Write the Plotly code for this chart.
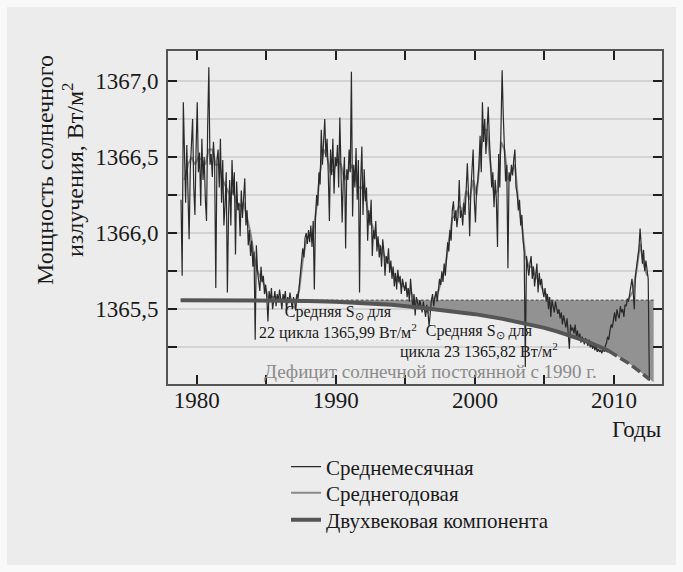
import numpy as np
import plotly.graph_objects as go

# Monthly mean total solar irradiance, W/m^2 (Nov 1978 onward), grouped by solar cycle
cycle21_monthly = [
    1366.22, 1365.72,
    1366.86, 1366.48, 1366.20, 1366.58, 1366.34, 1365.96, 1366.42, 1366.62, 1366.75, 1366.30, 1366.12, 1366.55,
    1366.86, 1366.40, 1366.53, 1366.18, 1366.62, 1366.35, 1366.50, 1366.22, 1366.08, 1366.70, 1367.09, 1366.45,
    1366.52, 1366.37, 1366.60, 1366.45, 1365.64, 1366.48, 1366.55, 1366.30, 1366.62, 1366.20, 1366.48, 1366.05,
    1366.18, 1366.40, 1365.61, 1366.12, 1366.35, 1366.05, 1366.48, 1366.25, 1366.40, 1365.86, 1366.34, 1366.15,
    1366.20, 1365.98, 1366.28, 1366.10, 1366.22, 1366.36, 1366.05, 1366.15, 1365.92, 1366.02, 1365.85, 1365.95,
    1365.78, 1365.88, 1365.30, 1365.92, 1365.75, 1365.70, 1365.62, 1365.78, 1365.68, 1365.72, 1365.60, 1365.66,
    1365.58, 1365.42, 1365.62, 1365.55, 1365.64, 1365.50, 1365.58, 1365.62, 1365.52, 1365.60, 1365.55, 1365.63,
    1365.57, 1365.50, 1365.60, 1365.56, 1365.62, 1365.49, 1365.58, 1365.54, 1365.61, 1365.56, 1365.50, 1365.58,
]
cycle22_monthly = [
    1365.55, 1365.49, 1365.60, 1365.57, 1365.65, 1365.70, 1365.78, 1365.90, 1365.84, 1365.97, 1366.00, 1365.93,
    1366.02, 1365.94, 1366.05, 1365.91, 1366.08, 1365.63, 1366.10, 1366.25, 1366.18, 1366.40, 1366.32, 1366.68,
    1366.45, 1366.58, 1366.75, 1366.50, 1366.62, 1366.40, 1366.08, 1366.55, 1366.38, 1366.62, 1366.26, 1366.50,
    1366.44, 1366.58, 1366.30, 1366.76, 1366.48, 1366.07, 1366.35, 1366.50, 1365.90, 1366.42, 1366.35, 1366.55,
    1366.40, 1367.06, 1366.11, 1366.45, 1366.30, 1366.56, 1366.22, 1366.48, 1365.61, 1366.35, 1366.57, 1366.12,
    1366.42, 1366.21, 1366.30, 1365.95, 1366.15, 1366.05, 1366.22, 1365.85, 1366.02, 1365.96, 1366.08, 1365.88,
    1365.98, 1365.84, 1365.92, 1365.78, 1365.96, 1365.88, 1365.72, 1365.85, 1365.80, 1365.90, 1365.74, 1365.82,
    1365.70, 1365.78, 1365.65, 1365.74, 1365.63, 1365.76, 1365.68, 1365.72, 1365.60, 1365.70, 1365.66, 1365.62,
    1365.68, 1365.58, 1365.64, 1365.55, 1365.70, 1365.62, 1365.50, 1365.60, 1365.46, 1365.58, 1365.55, 1365.50,
    1365.56, 1365.52, 1365.48, 1365.55, 1365.50, 1365.45, 1365.53, 1365.48, 1365.39, 1365.50, 1365.56, 1365.60,
]
cycle23_monthly = [
    1365.52, 1365.58, 1365.62, 1365.55, 1365.64, 1365.70, 1365.66, 1365.75, 1365.68, 1365.80, 1365.72, 1365.85,
    1365.94, 1365.88, 1366.02, 1365.95, 1366.15, 1366.21, 1366.08, 1366.15, 1366.04, 1366.12, 1366.35, 1366.10,
    1366.15, 1366.05, 1366.20, 1366.12, 1366.30, 1366.46, 1366.25, 1365.98, 1366.28, 1366.40, 1366.55, 1366.22,
    1366.07, 1366.30, 1366.34, 1366.45, 1366.64, 1366.40, 1366.86, 1366.60, 1366.75, 1366.52, 1366.70, 1366.83,
    1366.62, 1366.46, 1366.30, 1366.40, 1366.17, 1366.35, 1366.22, 1365.91, 1366.52, 1366.30, 1366.72, 1367.07,
    1366.77, 1366.50, 1366.34, 1366.45, 1365.77, 1366.40, 1366.34, 1366.45, 1366.38, 1366.48, 1366.55, 1366.30,
    1366.26, 1366.15, 1366.22, 1366.05, 1366.12, 1365.96, 1365.88, 1365.12, 1365.85, 1365.78, 1365.72, 1365.80,
    1365.85, 1365.70, 1365.78, 1365.65, 1365.72, 1365.80, 1365.61, 1365.74, 1365.66, 1365.70, 1365.62, 1365.58,
    1365.64, 1365.55, 1365.60, 1365.50, 1365.58, 1365.45, 1365.56, 1365.52, 1365.48, 1365.55, 1365.50, 1365.47,
    1365.50, 1365.44, 1365.48, 1365.40, 1365.46, 1365.42, 1365.38, 1365.44, 1365.35, 1365.24, 1365.40, 1365.36,
    1365.38, 1365.34, 1365.40, 1365.32, 1365.36, 1365.30, 1365.34, 1365.28, 1365.32, 1365.30, 1365.27, 1365.31,
    1365.29, 1365.26, 1365.30, 1365.25, 1365.28, 1365.24, 1365.27, 1365.23, 1365.26, 1365.22, 1365.24, 1365.22,
]
cycle24_monthly = [
    1365.23, 1365.21, 1365.24, 1365.22, 1365.26, 1365.28, 1365.32, 1365.30, 1365.36, 1365.40, 1365.38, 1365.44,
    1365.48, 1365.42, 1365.50, 1365.46, 1365.44, 1365.52, 1365.48, 1365.50, 1365.45, 1365.53, 1365.52, 1365.57,
    1365.55, 1365.60, 1365.66, 1365.70, 1365.62, 1365.50, 1365.72, 1365.78, 1365.85, 1365.90, 1366.03, 1365.92,
    1365.80, 1365.89, 1365.75, 1365.82, 1365.76, 1365.70, 1365.03,
]

# Smoothed (annual) mean, quarterly samples from 1979 Q1
annual_mean = [
    1366.35, 1366.45, 1366.50, 1366.45, 1366.50, 1366.48, 1366.45, 1366.55,
    1366.55, 1366.45, 1366.45, 1366.35, 1366.30, 1366.25, 1366.28, 1366.20,
    1366.18, 1366.20, 1366.10, 1366.00, 1365.85, 1365.75, 1365.70, 1365.66,
    1365.58, 1365.58, 1365.58, 1365.58, 1365.56, 1365.56, 1365.56, 1365.55,
    1365.56, 1365.63, 1365.82, 1365.95, 1366.00, 1366.00, 1366.18, 1366.40,
    1366.55, 1366.50, 1366.40, 1366.42, 1366.48, 1366.45, 1366.35, 1366.40,
    1366.45, 1366.38, 1366.30, 1366.30, 1366.25, 1366.10, 1366.05, 1365.98,
    1365.92, 1365.88, 1365.82, 1365.80, 1365.74, 1365.70, 1365.67, 1365.65,
    1365.63, 1365.62, 1365.56, 1365.54, 1365.52, 1365.50, 1365.48, 1365.53,
    1365.57, 1365.62, 1365.70, 1365.78, 1365.95, 1366.10, 1366.12, 1366.18,
    1366.15, 1366.28, 1366.22, 1366.35, 1366.25, 1366.50, 1366.68, 1366.68,
    1366.45, 1366.25, 1366.28, 1366.60, 1366.55, 1366.35, 1366.40, 1366.45,
    1366.20, 1366.05, 1365.85, 1365.78, 1365.78, 1365.72, 1365.68, 1365.63,
    1365.60, 1365.55, 1365.52, 1365.50, 1365.47, 1365.43, 1365.40, 1365.36,
    1365.37, 1365.33, 1365.31, 1365.29, 1365.28, 1365.26, 1365.25, 1365.23,
    1365.23, 1365.25, 1365.32, 1365.40, 1365.46, 1365.47, 1365.49, 1365.53,
    1365.58, 1365.62, 1365.76, 1365.93, 1365.80, 1365.72,
]

# Secular (bi-centennial) component: fitted part and projection
secular_years = [1978.85, 1982, 1985, 1988, 1990, 1992, 1994, 1996, 1998,
                 2000, 2002, 2004, 2005, 2006, 2007, 2008, 2009, 2009.6]
secular_vals = [1365.560, 1365.560, 1365.558, 1365.555, 1365.550, 1365.542,
                1365.530, 1365.512, 1365.492, 1365.468, 1365.437, 1365.400,
                1365.378, 1365.352, 1365.323, 1365.290, 1365.252, 1365.227]
projection_years = [2009.6, 2010, 2010.5, 2011, 2011.5, 2012, 2012.55]
projection_vals = [1365.227, 1365.205, 1365.178, 1365.148, 1365.115, 1365.080, 1365.040]

# Reference level (start of the secular decline) and the deficit edge
ref_level = 1365.56
ref_years = [1978.85, 2012.85]
deficit_edge_year = 2012.85
deficit_edge_val = 1365.02

y_ticks = [1365.25, 1365.5, 1365.75, 1366.0, 1366.25, 1366.5, 1366.75, 1367.0]
y_ticktext = ["", "1365,5", "", "1366,0", "", "1366,5", "", "1367,0"]
x_ticks = [1980, 1985, 1990, 1995, 2000, 2005, 2010]
x_ticktext = ["1980", "", "1990", "", "2000", "", "2010"]

monthly = cycle21_monthly + cycle22_monthly + cycle23_monthly + cycle24_monthly
monthly_t = 1978 + (10.5 + np.arange(len(monthly))) / 12.0
annual_t = 1979 + (0.5 + np.arange(len(annual_mean))) / 4.0

FONT = "Liberation Serif, Times New Roman, serif"
INK = "#1a1a1a"
W, H = 683, 572
L, R, T, B = 168, 21, 51, 188
PW, PH = W - L - R, H - T - B


def px_x(p):
    return (p - L) / PW


def px_y(p):
    return (H - B - p) / PH


fig = go.Figure()

# deficit area between the reference level and the secular curve
sec_all_t = secular_years + projection_years[1:] + [deficit_edge_year]
sec_all_v = secular_vals + projection_vals[1:] + [deficit_edge_val]
fig.add_trace(go.Scatter(x=sec_all_t, y=sec_all_v, mode="lines",
                         line=dict(width=0), showlegend=False, hoverinfo="skip"))
fig.add_trace(go.Scatter(x=ref_years, y=[ref_level] * len(ref_years), mode="lines",
                         line=dict(width=0), fill="tonexty", fillcolor="#929292",
                         showlegend=False, hoverinfo="skip"))

fig.add_trace(go.Scatter(x=annual_t, y=annual_mean, mode="lines", name="Среднегодовая",
                         line=dict(color="#8a8a8a", width=2), legend="legend2"))
fig.add_trace(go.Scatter(x=monthly_t, y=monthly, mode="lines", name="Среднемесячная",
                         line=dict(color="#2a2a2a", width=1.2), legend="legend"))

fig.add_trace(go.Scatter(x=ref_years, y=[ref_level] * len(ref_years), mode="lines",
                         line=dict(color="#3a3a3a", width=1, dash="3px,2px"),
                         showlegend=False, hoverinfo="skip"))
fig.add_trace(go.Scatter(x=secular_years, y=secular_vals, mode="lines",
                         name="Двухвековая компонента",
                         line=dict(color="#555555", width=4), legend="legend3"))
fig.add_trace(go.Scatter(x=projection_years, y=projection_vals, mode="lines",
                         line=dict(color="#555555", width=3.5, dash="10px,4px"),
                         showlegend=False, hoverinfo="skip"))

axis_common = dict(showline=True, linecolor="#555555", linewidth=2, mirror="ticks",
                   ticks="inside", ticklen=9, tickwidth=2, tickcolor="#1e1e1e",
                   zeroline=False, tickfont=dict(family=FONT, size=23, color=INK))

fig.update_xaxes(range=[1977.94, 2013.45], tickvals=x_ticks, ticktext=x_ticktext,
                 showgrid=False, ticklabelstandoff=-6, **axis_common)
fig.update_yaxes(range=[1365.009, 1367.197], tickvals=y_ticks, ticktext=y_ticktext,
                 showgrid=True, gridcolor="#d3d3d3", gridwidth=2,
                 ticklabelstandoff=3, **axis_common)

ann_font = dict(family=FONT, size=16, color=INK)
annotations = [
    dict(x=1990.16, y=1365.414, xref="x", yref="y", showarrow=False,
         xanchor="center", yanchor="middle",
         text="Средняя S<sub>⊙</sub> для<br>22 цикла 1365,99 Вт/м<sup>2</sup>", font=ann_font),
    dict(x=2000.29, y=1365.288, xref="x", yref="y", showarrow=False,
         xanchor="center", yanchor="middle",
         text="Средняя S<sub>⊙</sub> для<br>цикла 23 1365,82 Вт/м<sup>2</sup>", font=ann_font),
    dict(x=1996.84, y=1365.093, xref="x", yref="y", showarrow=False,
         xanchor="center", yanchor="middle",
         text="Дефицит солнечной постоянной с 1990 г.",
         font=dict(family=FONT, size=19, color="#8a8a8a")),
    dict(x=px_x(45), y=px_y(170), xref="paper", yref="paper", showarrow=False,
         xanchor="center", yanchor="middle", textangle=-90, text="Мощность солнечного",
         font=dict(family=FONT, size=24, color=INK)),
    dict(x=px_x(73), y=px_y(170), xref="paper", yref="paper", showarrow=False,
         xanchor="center", yanchor="middle", textangle=-90,
         text="излучения, Вт/м<sup>2</sup>",
         font=dict(family=FONT, size=24, color=INK)),
    dict(x=px_x(663), y=px_y(429), xref="paper", yref="paper", showarrow=False,
         xanchor="right", yanchor="middle", text="Годы",
         font=dict(family=FONT, size=23, color=INK)),
]

legend_common = dict(xanchor="left", yanchor="middle", bgcolor="rgba(0,0,0,0)",
                     font=dict(family=FONT, size=21, color=INK))

fig.update_layout(
    width=W, height=H, autosize=False,
    margin=dict(l=L, r=R, t=T, b=B),
    paper_bgcolor="#f9f9f9", plot_bgcolor="#ececec",
    annotations=annotations,
    shapes=[dict(type="rect", xref="paper", yref="paper", layer="below",
                 x0=px_x(7), x1=px_x(676), y0=px_y(565), y1=px_y(7),
                 fillcolor="#ececec", line=dict(width=0))],
    legend=dict(x=px_x(286), y=px_y(467), **legend_common),
    legend2=dict(x=px_x(286), y=px_y(493), **legend_common),
    legend3=dict(x=px_x(286), y=px_y(520), **legend_common),
    showlegend=True,
)

fig.write_html("out.html", config={"displayModeBar": False})
